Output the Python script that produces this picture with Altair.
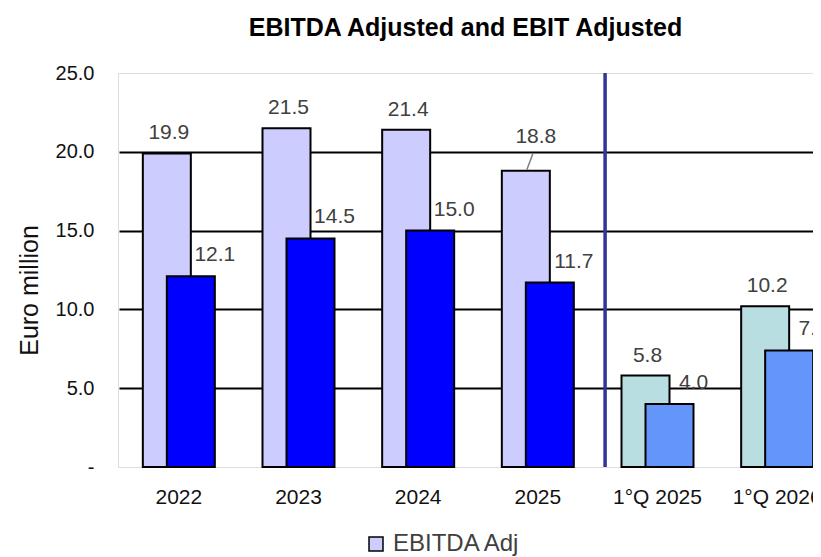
import altair as alt
import pandas as pd

categories = ["2022", "2023", "2024", "2025", "1°Q 2025", "1°Q 2026"]
ebitda_adj = [19.9, 21.5, 21.4, 18.8, 5.8, 10.2]
ebit_adj = [12.1, 14.5, 15.0, 11.7, 4.0, 7.4]
is_quarter = [False, False, False, False, True, True]
y_ticks = [0, 5, 10, 15, 20, 25]

color_keys = ["EBITDA Adj", "EBIT Adj", "EBITDA Adj 1Q", "EBIT Adj 1Q"]
color_vals = ["#CCCCFF", "#0000FF", "#B9DEE2", "#6495FA"]

rows = []
for c, a, b, q in zip(categories, ebitda_adj, ebit_adj, is_quarter):
    rows.append({"cat": c, "metric": "EBITDA", "value": a,
                 "key": "EBITDA Adj 1Q" if q else "EBITDA Adj"})
    rows.append({"cat": c, "metric": "EBIT", "value": b,
                 "key": "EBIT Adj 1Q" if q else "EBIT Adj"})
df = pd.DataFrame(rows)
df_a = df[df.metric == "EBITDA"]
df_b = df[df.metric == "EBIT"]
leader_cat = categories[3]
df_a_main = df_a[df_a.cat != leader_cat]
df_a_lead = df_a[df_a.cat == leader_cat]

FONT = "Liberation Sans"
XRANGE = [1, 719]

x_scale = alt.Scale(domain=categories, range=XRANGE, paddingInner=0, paddingOuter=0)
x_enc = alt.X("cat:N", sort=categories, scale=x_scale,
              axis=alt.Axis(title=None, labelAngle=0, labelFontSize=21, labelColor="#111111",
                            labelPadding=19, ticks=False, domain=False, labelFont=FONT))
y_enc = alt.Y("value:Q",
              scale=alt.Scale(domain=[0, 25], nice=False),
              axis=alt.Axis(title="Euro million", values=y_ticks, titleFontSize=25,
                            titleFontWeight="normal", titleColor="#111111", titlePadding=13,
                            titleY=217,
                            labelFontSize=20, labelColor="#111111", labelPadding=24,
                            ticks=False, domain=False,
                            labelExpr="datum.value == 0 ? '-' : format(datum.value, '.1f')",
                            grid=True, gridColor="#000000", gridWidth=2,
                            gridOpacity={"condition": {"test": "datum.value == 0 || datum.value == 25", "value": 0}, "value": 1}))

color_enc = alt.Color("key:N", scale=alt.Scale(domain=color_keys, range=color_vals),
                      legend=alt.Legend(title=None, values=["EBITDA Adj"], orient="none",
                                        legendX=246, legendY=459, symbolType="square",
                                        symbolSize=196, symbolStrokeColor="#000000",
                                        symbolStrokeWidth=1.5, labelFontSize=24,
                                        labelColor="#404040", labelFont=FONT, labelOffset=5))

bars_a = alt.Chart(df_a).mark_bar(width=48, xOffset=-12, stroke="#000000", strokeWidth=2).encode(
    x=x_enc, y=y_enc, color=color_enc)
bars_b = alt.Chart(df_b).mark_bar(width=48, xOffset=12, stroke="#000000", strokeWidth=2).encode(
    x=x_enc, y=y_enc, color=color_enc)

text_a = alt.Chart(df_a_main).mark_text(dx=-10, dy=-14, baseline="alphabetic", fontSize=21,
                                        color="#404040", font=FONT).encode(
    x=x_enc, y=y_enc, text=alt.Text("value:Q", format=".1f"))
text_a_lead = alt.Chart(df_a_lead).mark_text(dx=-2, dy=-28, baseline="alphabetic", fontSize=21,
                                             color="#404040", font=FONT).encode(
    x=x_enc, y=y_enc, text=alt.Text("value:Q", format=".1f"))
leader = alt.Chart(df_a_lead).mark_rule(color="#808080", strokeWidth=1.5,
                                        xOffset=-11, yOffset=-1, x2Offset=-5, y2Offset=-17).encode(
    x=x_enc, x2=alt.X2("cat:N"), y=y_enc, y2=alt.Y2("value:Q"))
text_b = alt.Chart(df_b).mark_text(dx=36, dy=-15, baseline="alphabetic", fontSize=21,
                                   color="#404040", font=FONT).encode(
    x=x_enc, y=y_enc, text=alt.Text("value:Q", format=".1f"))

sep = alt.Chart(pd.DataFrame({"cat": [categories[4]]})).mark_rule(
    color="#333399", strokeWidth=3.5).encode(
    x=alt.X("cat:N", sort=categories, bandPosition=0.062, scale=x_scale))

chart = alt.layer(bars_a, bars_b, text_a, text_a_lead, leader, text_b, sep).properties(
    width=695, height=394,
    title=alt.TitleParams("EBITDA Adjusted and EBIT Adjusted", fontSize=25, fontWeight="bold",
                          anchor="middle", offset=22, color="#000000", font=FONT),
    autosize=alt.AutoSizeParams(type="none"),
    padding={"left": 110, "top": 65, "right": 0, "bottom": 90},
).configure_view(stroke="#8c8c8c", strokeWidth=2.5).configure(font=FONT)

chart.save("out.html", embed_options={"renderer": "svg", "actions": False})
